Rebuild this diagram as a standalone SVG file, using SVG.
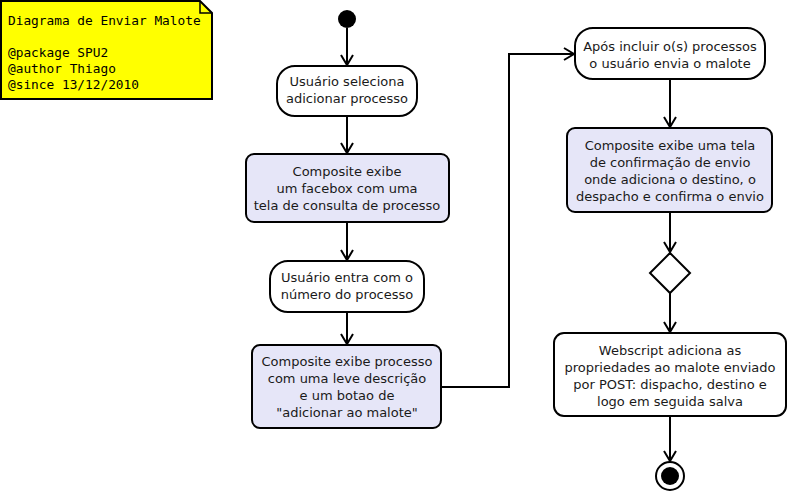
<svg xmlns="http://www.w3.org/2000/svg" width="788" height="495" viewBox="0 0 788 495">
<style>
.act{fill:#fff;stroke:#000;stroke-width:2}
.cmp{fill:#e6e6f8;stroke:#000;stroke-width:2}
.t{font-family:"DejaVu Sans",sans-serif;font-size:13px;fill:#1a1a1a;text-anchor:middle}
.m{font-family:"DejaVu Sans Mono",monospace;font-size:12.8px;fill:#000}
.c{fill:none;stroke:#000;stroke-width:2}
</style>
<defs>
<marker id="ah" markerUnits="userSpaceOnUse" markerWidth="16" markerHeight="16" refX="12" refY="8" orient="auto">
<path d="M2,2 L12,8 L2,14" fill="none" stroke="#000" stroke-width="2"/>
</marker>
</defs>
<rect width="788" height="495" fill="#fff"/>
<g id="note">
<path d="M1,1 H200 L212,13 V99 H1 Z" fill="#ffff00" stroke="#000" stroke-width="2"/>
<path d="M200,1 V13 H212" fill="none" stroke="#000" stroke-width="1.5"/>
<text class="m" x="8" y="25">Diagrama de Enviar Malote</text>
<text class="m" x="8" y="57">@package SPU2</text>
<text class="m" x="8" y="73">@author Thiago</text>
<text class="m" x="8" y="89">@since 13/12/2010</text>
</g>
<g id="connectors">
<line class="c" x1="347" y1="28" x2="347" y2="65" marker-end="url(#ah)"/>
<line class="c" x1="347" y1="116" x2="347" y2="153" marker-end="url(#ah)"/>
<line class="c" x1="347" y1="222" x2="347" y2="260" marker-end="url(#ah)"/>
<line class="c" x1="347" y1="312" x2="347" y2="344" marker-end="url(#ah)"/>
<polyline class="c" points="441,387 509,387 509,54 574,54" marker-end="url(#ah)"/>
<line class="c" x1="670" y1="79" x2="670" y2="127" marker-end="url(#ah)"/>
<line class="c" x1="670" y1="212" x2="670" y2="252" marker-end="url(#ah)"/>
<line class="c" x1="670" y1="293" x2="670" y2="332" marker-end="url(#ah)"/>
<line class="c" x1="670" y1="416" x2="670" y2="461" marker-end="url(#ah)"/>
</g>
<g id="start"><circle cx="347" cy="19" r="9" fill="#000"/></g>
<g id="n1">
<rect class="act" x="277" y="66" width="140" height="50" rx="18"/>
<text class="t" x="347" y="86">Usuário seleciona</text>
<text class="t" x="347" y="103">adicionar processo</text>
</g>
<g id="n2">
<rect class="cmp" x="246" y="154" width="203" height="68" rx="8"/>
<text class="t" x="347" y="176">Composite exibe</text>
<text class="t" x="347" y="193">um facebox com uma</text>
<text class="t" x="347" y="210">tela de consulta de processo</text>
</g>
<g id="n3">
<rect class="act" x="270" y="261" width="154" height="51" rx="18"/>
<text class="t" x="347" y="282">Usuário entra com o</text>
<text class="t" x="347" y="299">número do processo</text>
</g>
<g id="n4">
<rect class="cmp" x="252" y="345" width="189" height="83" rx="8"/>
<text class="t" x="347" y="366">Composite exibe processo</text>
<text class="t" x="347" y="383">com uma leve descrição</text>
<text class="t" x="347" y="400">e um botao de</text>
<text class="t" x="347" y="417">"adicionar ao malote"</text>
</g>
<g id="n5">
<rect class="act" x="575" y="28" width="190" height="51" rx="18"/>
<text class="t" x="670" y="51">Após incluir o(s) processos</text>
<text class="t" x="670" y="68">o usuário envia o malote</text>
</g>
<g id="n6">
<rect class="cmp" x="567" y="128" width="205" height="84" rx="8"/>
<text class="t" x="670" y="150">Composite exibe uma tela</text>
<text class="t" x="670" y="167">de confirmação de envio</text>
<text class="t" x="670" y="184">onde adiciona o destino, o</text>
<text class="t" x="670" y="201">despacho e confirma o envio</text>
</g>
<g id="decision">
<path d="M670,253 L690,273 L670,293 L650,273 Z" fill="#fff" stroke="#000" stroke-width="2"/>
</g>
<g id="n7">
<rect class="act" x="554" y="333" width="232" height="83" rx="10"/>
<text class="t" x="670" y="355">Webscript adiciona as</text>
<text class="t" x="670" y="372">propriedades ao malote enviado</text>
<text class="t" x="670" y="389">por POST: dispacho, destino e</text>
<text class="t" x="670" y="406">logo em seguida salva</text>
</g>
<g id="end">
<circle cx="670" cy="476" r="14" fill="#fff" stroke="#000" stroke-width="2"/>
<circle cx="670" cy="476" r="9" fill="#000"/>
</g>
</svg>
